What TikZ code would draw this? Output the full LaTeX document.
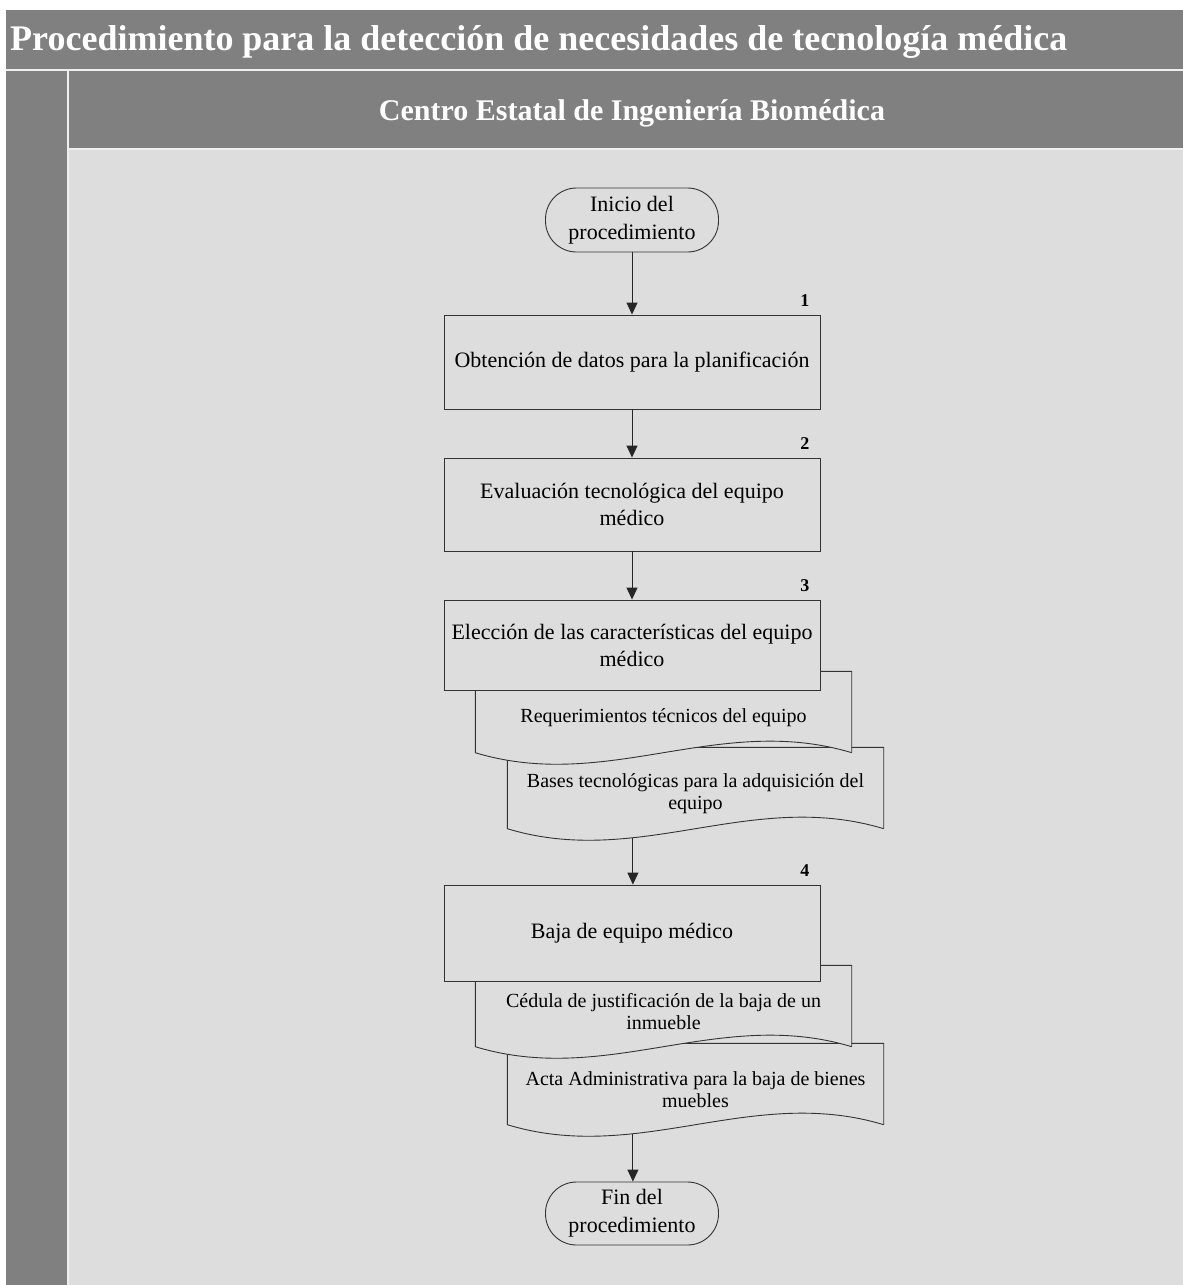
\documentclass[tikz,border=0pt]{standalone}
\usepackage{fontspec}
\setmainfont{Liberation Serif}
\usetikzlibrary{arrows.meta,positioning}
\definecolor{lanegray}{HTML}{808080}
\definecolor{lanelight}{HTML}{DDDDDD}
\definecolor{laneline}{HTML}{EEEEEE}
\pgfdeclarelayer{lanes}
\pgfdeclarelayer{docs}
\pgfsetlayers{lanes,docs,main}
\begin{document}
\begin{tikzpicture}
[x=1pt,y=1pt,
  stepbox/.style={shape=rectangle,draw=black!80,fill=lanelight,line width=0.9pt,minimum width=376pt,minimum height=94pt,align=center,font=\fontsize{22}{27}\selectfont},
  termbox/.style={shape=rectangle,rounded corners=31pt,draw=black!80,fill=lanelight,line width=0.9pt,minimum width=173pt,minimum height=64pt,align=center,font=\fontsize{22}{28}\selectfont},
  docnode/.style={minimum width=376pt,minimum height=81pt,align=center,font=\fontsize{20}{22}\selectfont},
  docline/.style={draw=black!80,fill=lanelight,line width=0.9pt},
  stepnum/.style={font=\fontsize{18}{20}\selectfont\bfseries,inner sep=1pt},
  flowarrow/.style={-{Triangle[length=12pt,width=11pt]},line width=1pt,black!85}]
\useasboundingbox (0,0) rectangle (1183,-1285);
%%% lanes
\begin{pgfonlayer}{lanes}
\fill[white] (0,0) rectangle (1183,-1285);
\fill[lanegray] (6,-10) rectangle (1183,-69);
\fill[lanegray] (6,-71) rectangle (67,-1285);
\fill[lanegray] (69,-71) rectangle (1183,-148);
\fill[lanelight] (69,-150) rectangle (1183,-1285);
\draw[laneline,line width=1.5pt] (6,-70) -- (1183,-70);
\draw[laneline,line width=1.5pt] (68,-70) -- (68,-1285);
\draw[laneline,line width=1.5pt] (68,-149) -- (1183,-149);
\end{pgfonlayer}
\node[anchor=base west,inner sep=0pt,text=white,font=\fontsize{36}{40}\selectfont\bfseries] (title) at (10,-50) {Procedimiento para la detección de necesidades de tecnología médica};
\node[anchor=base,inner sep=0pt,text=white,font=\fontsize{30}{34}\selectfont\bfseries] (lane) at (632,-120) {Centro Estatal de Ingeniería Biomédica};
%
%%% flow
% nodes
\node (start) at (632,-220) [termbox] {Inicio del\\procedimiento};
\node (datos) at (632,-362) [stepbox] {Obtención de datos para la planificación};
\node (evalua) at (632,-504.5) [stepbox,minimum height=93pt] {Evaluación tecnológica del equipo\\médico};
\node (elige) at (632,-645) [stepbox,minimum height=90pt] {Elección de las características del equipo\\médico};
\node (baja) at (632,-933) [stepbox,minimum height=96pt] {Baja de equipo médico};
\node (fin) at (632,-1213.5) [termbox,minimum height=63pt] {Fin del\\procedimiento};
% step numbers
\node (num1) [stepnum,above left=7pt and 10pt of datos.north east] {1};
\node (num2) [stepnum,above left=7pt and 10pt of evalua.north east] {2};
\node (num3) [stepnum,above left=7pt and 10pt of elige.north east] {3};
\node (num4) [stepnum,above left=7pt and 10pt of baja.north east] {4};
% documents
\node (reqdoc) at (663.5,-718) [docnode] {Requerimientos técnicos del equipo};
\node (basedoc) at (695.5,-794) [docnode] {Bases tecnológicas para la adquisición del\\equipo};
\node (ceddoc) at (663.5,-1012) [docnode] {Cédula de justificación de la baja de un\\inmueble};
\node (actadoc) at (695.5,-1090) [docnode] {Acta Administrativa para la baja de bienes\\muebles};
\begin{pgfonlayer}{docs}
\draw[docline] ([yshift=6pt]basedoc.south east) -- ([yshift=6pt]basedoc.north east) -- ([yshift=6pt]basedoc.north west) -- ([yshift=6pt]basedoc.south west)
  .. controls ([xshift=132pt,yshift=-34pt]basedoc.south west) and ([xshift=244pt,yshift=46pt]basedoc.south west) .. ([yshift=6pt]basedoc.south east)
  coordinate[pos=0.33] (basewave);
\draw[docline] ([yshift=6pt]reqdoc.south east) -- ([yshift=6pt]reqdoc.north east) -- ([yshift=6pt]reqdoc.north west) -- ([yshift=6pt]reqdoc.south west)
  .. controls ([xshift=132pt,yshift=-34pt]reqdoc.south west) and ([xshift=244pt,yshift=46pt]reqdoc.south west) .. ([yshift=6pt]reqdoc.south east);
\draw[docline] ([yshift=6pt]actadoc.south east) -- ([yshift=6pt]actadoc.north east) -- ([yshift=6pt]actadoc.north west) -- ([yshift=6pt]actadoc.south west)
  .. controls ([xshift=132pt,yshift=-34pt]actadoc.south west) and ([xshift=244pt,yshift=46pt]actadoc.south west) .. ([yshift=6pt]actadoc.south east)
  coordinate[pos=0.33] (actawave);
\draw[docline] ([yshift=6pt]ceddoc.south east) -- ([yshift=6pt]ceddoc.north east) -- ([yshift=6pt]ceddoc.north west) -- ([yshift=6pt]ceddoc.south west)
  .. controls ([xshift=132pt,yshift=-34pt]ceddoc.south west) and ([xshift=244pt,yshift=46pt]ceddoc.south west) .. ([yshift=6pt]ceddoc.south east);
\end{pgfonlayer}
% arrows
\path
(start) edge[flowarrow] (datos)
(datos) edge[flowarrow] (evalua)
(evalua) edge[flowarrow] (elige)
(basewave) edge[flowarrow] (baja.north -| basewave)
(actawave) edge[flowarrow] (fin.north -| actawave);
\end{tikzpicture}
\end{document}
